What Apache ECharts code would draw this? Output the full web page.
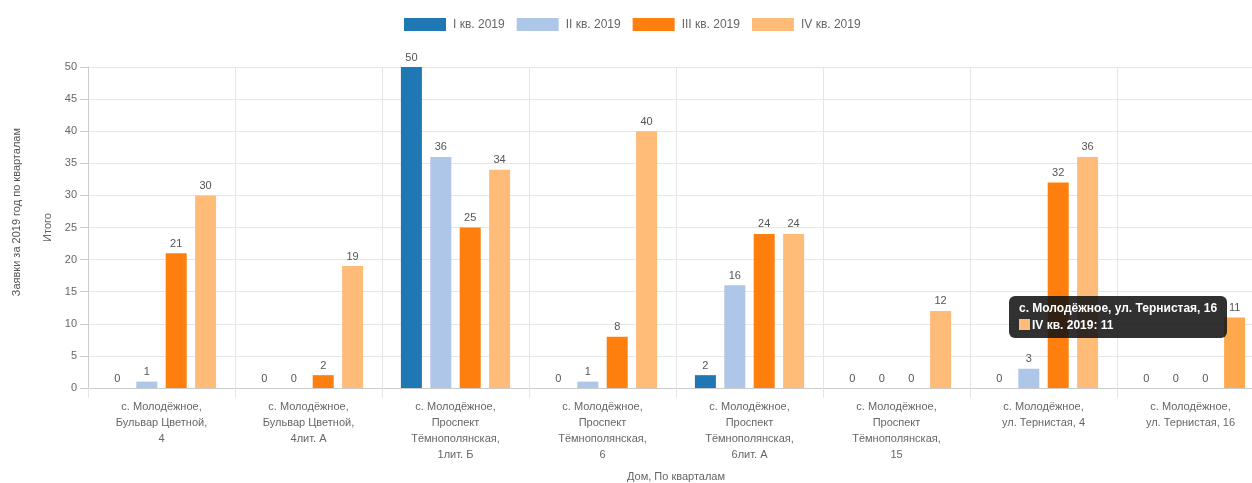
<!DOCTYPE html>
<html>
<head>
<meta charset="utf-8">
<script src="https://cdn.jsdelivr.net/npm/echarts@6/dist/echarts.min.js"></script>
<style>
html,body{margin:0;padding:0;background:#fff;overflow:hidden;}
#chart{width:1252px;height:483px;}
</style>
</head>
<body>
<div id="chart"></div>
<script>
var categories = [
  'с. Молодёжное, Бульвар Цветной, 4',
  'с. Молодёжное, Бульвар Цветной, 4лит. А',
  'с. Молодёжное, Проспект Тёмнополянская, 1лит. Б',
  'с. Молодёжное, Проспект Тёмнополянская, 6',
  'с. Молодёжное, Проспект Тёмнополянская, 6лит. А',
  'с. Молодёжное, Проспект Тёмнополянская, 15',
  'с. Молодёжное, ул. Тернистая, 4',
  'с. Молодёжное, ул. Тернистая, 16'
];
var categoryLabels = [
  'с. Молодёжное,\nБульвар Цветной,\n4',
  'с. Молодёжное,\nБульвар Цветной,\n4лит. А',
  'с. Молодёжное,\nПроспект\nТёмнополянская,\n1лит. Б',
  'с. Молодёжное,\nПроспект\nТёмнополянская,\n6',
  'с. Молодёжное,\nПроспект\nТёмнополянская,\n6лит. А',
  'с. Молодёжное,\nПроспект\nТёмнополянская,\n15',
  'с. Молодёжное,\nул. Тернистая, 4',
  'с. Молодёжное,\nул. Тернистая, 16'
];
var seriesNames = ['I кв. 2019', 'II кв. 2019', 'III кв. 2019', 'IV кв. 2019'];
var q1 = [0, 0, 50, 0, 2, 0, 0, 0];
var q2 = [1, 0, 36, 1, 16, 0, 3, 0];
var q3 = [21, 2, 25, 8, 24, 0, 32, 0];
var q4 = [30, 19, 34, 40, 24, 12, 36, 11];
var colors = ['#1f77b4', '#aec7e8', '#ff7f0e', '#ffbb78'];
var yTicks = [0, 5, 10, 15, 20, 25, 30, 35, 40, 45, 50];

var chart = echarts.init(document.getElementById('chart'), null, {renderer: 'canvas'});
var font = 'Liberation Sans, Arial, sans-serif';
var allData = [q1, q2, q3, q4];
var option = {
  animation: false,
  color: colors,
  textStyle: {fontFamily: font},
  legend: {
    top: 13,
    left: 399,
    itemWidth: 42,
    itemHeight: 13,
    itemGap: 12,
    icon: 'rect',
    textStyle: {color: '#666', fontSize: 12, fontFamily: font, padding: [0, 0, 0, 2]},
    data: seriesNames
  },
  tooltip: {
    trigger: 'item',
    alwaysShowContent: true,
    transitionDuration: 0,
    backgroundColor: 'rgba(20,20,20,0.88)',
    borderWidth: 0,
    padding: [4, 10],
    extraCssText: 'border-radius:6px;box-shadow:none;',
    textStyle: {color: '#fff', fontSize: 12, fontFamily: font},
    position: function (point, params, dom, rect, size) {
      return [rect.x + 3 - size.contentSize[0], rect.y - 21];
    },
    formatter: function (p) {
      return '<div style="font-weight:bold;line-height:17px">' + p.name + '</div>' +
        '<div style="font-weight:bold;line-height:17px"><span style="display:inline-block;width:11px;height:11px;background:' + p.color + ';margin-right:2px;vertical-align:-1px"></span>' +
        p.seriesName + ': ' + p.value + '</div>';
    }
  },
  grid: {left: 88, width: 1176, top: 67, bottom: 95, containLabel: false, outerBoundsMode: 'none'},
  xAxis: {
    type: 'category',
    data: categories,
    name: 'Дом, По кварталам',
    nameLocation: 'middle',
    nameGap: 83,
    nameTextStyle: {color: '#666', fontSize: 11, fontFamily: font, align: 'center'},
    axisLine: {lineStyle: {color: '#ccc'}},
    axisTick: {show: true, length: 10, lineStyle: {color: '#e6e6e6'}},
    splitLine: {show: true, lineStyle: {color: '#e6e6e6'}},
    axisLabel: {
      color: '#666', fontSize: 11, fontFamily: font, lineHeight: 16, margin: 11,
      interval: 0,
      formatter: function (v, i) { return categoryLabels[i]; }
    }
  },
  yAxis: {
    type: 'value',
    min: 0, max: 50, interval: 5,
    name: 'Итого',
    nameLocation: 'middle',
    nameGap: 34,
    nameRotate: 90,
    nameTextStyle: {color: '#666', fontSize: 11, fontFamily: font},
    axisLine: {show: true, lineStyle: {color: '#ccc'}},
    axisTick: {show: true, length: 8, lineStyle: {color: '#ccc'}},
    splitLine: {show: true, lineStyle: {color: '#e6e6e6'}},
    axisLabel: {
      color: '#666', fontSize: 11, fontFamily: font, margin: 11,
      formatter: function (v) { return yTicks.indexOf(v) >= 0 ? String(v) : ''; }
    }
  },
  graphic: [{
    type: 'text',
    left: 11,
    top: 128,
    rotation: Math.PI / 2,
    style: {
      text: 'Заявки за 2019 год по кварталам',
      fill: '#555', font: '11px ' + font
    }
  }],
  series: seriesNames.map(function (n, i) {
    return {
      name: n,
      type: 'bar',
      data: allData[i],
      barWidth: 21,
      barGap: '40%',
      itemStyle: {color: colors[i]},
      emphasis: {
        itemStyle: {color: i === 3 ? '#ffa94d' : colors[i]},
        label: {show: true, fontSize: 11, color: '#555'}
      },
      label: {show: true, position: 'top', distance: 4, color: '#555', fontSize: 11, fontFamily: font}
    };
  })
};
chart.setOption(option);
setTimeout(function () {
  chart.dispatchAction({type: 'highlight', seriesIndex: 3, dataIndex: 7});
  chart.dispatchAction({type: 'showTip', seriesIndex: 3, dataIndex: 7});
}, 50);
</script>
</body>
</html>
